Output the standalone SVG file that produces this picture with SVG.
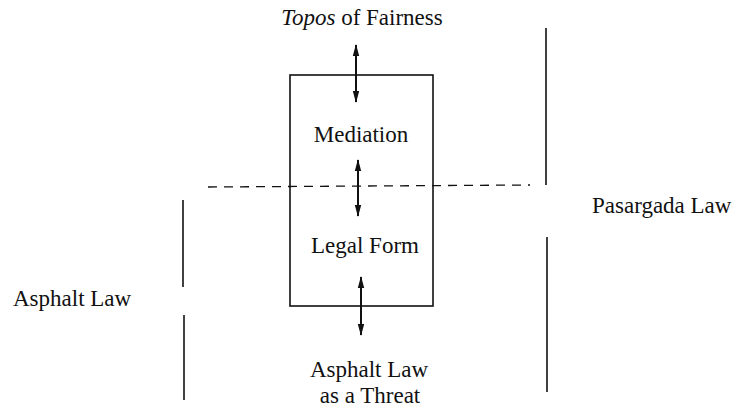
<svg xmlns="http://www.w3.org/2000/svg" width="740" height="416" viewBox="0 0 740 416">
<style>
text{font-family:"Liberation Serif","Times New Roman",serif;font-size:23px;fill:#111}
.c{text-anchor:middle}
.ln{stroke:#111;stroke-width:1.6;fill:none}
.ar{stroke:#111;stroke-width:2;fill:none;marker-start:url(#h);marker-end:url(#h)}
.dash{stroke:#111;stroke-width:1.3;stroke-dasharray:9,7;fill:none}
</style>
<defs>
<marker id="h" viewBox="0 0 12 8" refX="11" refY="4" markerWidth="12" markerHeight="8" markerUnits="userSpaceOnUse" orient="auto-start-reverse">
<path d="M0,0.8 L12,4 L0,7.2 Z" fill="#111"/>
</marker>
</defs>
<rect width="740" height="416" fill="#fff"/>
<g id="box"><rect x="290" y="75" width="143" height="231" class="ln"/></g>
<g id="topos"><text x="362" y="25" class="c"><tspan font-style="italic">Topos</tspan> of Fairness</text></g>
<g id="mediation"><text x="361" y="142" class="c">Mediation</text></g>
<g id="legalform"><text x="365" y="253" class="c">Legal Form</text></g>
<g id="threat"><text x="369" y="377" class="c">Asphalt Law</text><text x="370" y="403" class="c">as a Threat</text></g>
<g id="pasargada"><text x="592" y="213">Pasargada Law</text>
<line x1="546" y1="28" x2="546" y2="185" class="ln"/><line x1="547" y1="237" x2="547" y2="392" class="ln"/></g>
<g id="asphalt"><text x="13" y="306">Asphalt Law</text>
<line x1="183" y1="200" x2="183" y2="287" class="ln"/><line x1="184" y1="315" x2="184" y2="400" class="ln"/></g>
<g id="connectors">
<line x1="208" y1="187" x2="530" y2="185" class="dash"/>
<line x1="356" y1="45" x2="356" y2="102" class="ar"/>
<line x1="358" y1="160" x2="358" y2="216" class="ar"/>
<line x1="361" y1="277" x2="361" y2="335" class="ar"/>
</g>
</svg>
